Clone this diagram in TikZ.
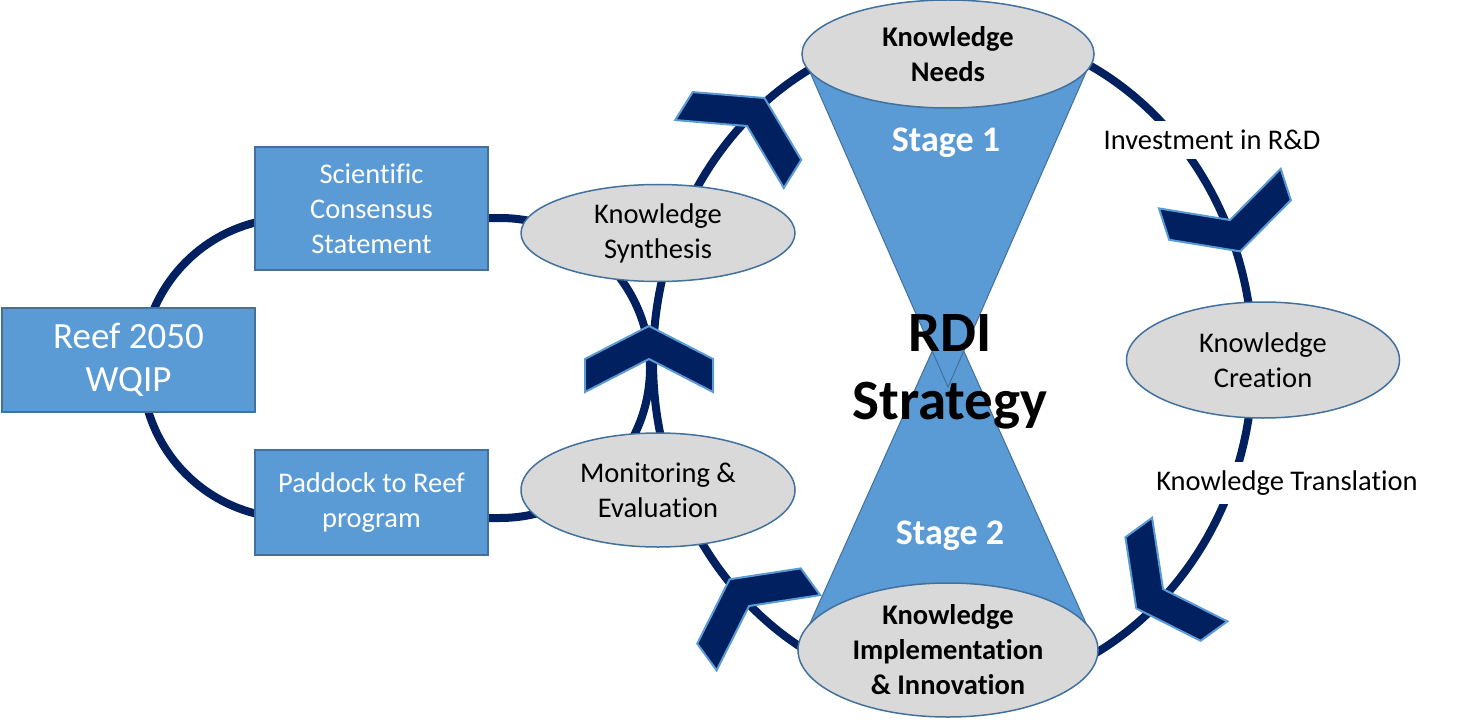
\documentclass[tikz,border=0pt]{standalone}
\usepackage{fontspec}
\setmainfont[Ligatures=NoCommon]{Carlito}
\usepackage{tikz}
\tikzset{>=latex}
\usetikzlibrary{shapes.geometric}

\definecolor{navy}{HTML}{002060}
\definecolor{midblue}{HTML}{5B9BD5}
\definecolor{edgeblue}{HTML}{41719C}
\definecolor{ovalgray}{HTML}{D9D9D9}

\begin{document}
\begin{tikzpicture}[x=1pt, y=-1pt,
  loopline/.style={navy, line width=8pt},
  chevron/.style={fill=navy, draw=midblue, line width=2pt},
  cone/.style={fill=midblue, draw=edgeblue, line width=1pt},
  oval/.style={ellipse, fill=ovalgray, draw=edgeblue, line width=1.5pt, inner sep=-16pt, align=center, font=\fontsize{28.5}{35}\selectfont},
  panel/.style={rectangle, fill=midblue, draw=edgeblue, line width=1.8pt, inner sep=0pt, align=center, text=white, font=\fontsize{28.5}{35}\selectfont},
  tag/.style={fill=white, inner xsep=4pt, inner ysep=9pt, font=\fontsize{28.5}{35}\selectfont},
  stagetext/.style={text=white, font=\fontsize{36}{43}\selectfont\bfseries}]
\useasboundingbox (0,0) rectangle (1474,722);

\draw[loopline] (953,361) ellipse [x radius=300, y radius=332];
\draw[loopline, rounded corners=150pt] (142,218) rectangle (650,518);

\foreach \cx/\cy/\ang in {747/126/58, 1230/220/-72, 1163/589/-144, 749/606/126, 649/359/90}{
  \draw[chevron, shift={(\cx,\cy)}, rotate=\ang] (-33,-64) -- (0,-64) -- (33,0) -- (0,64) -- (-33,64) -- (0,0) -- cycle;
}

\draw[cone] (798,650) -- (948,316) -- (1098,650) -- cycle;
\draw[cone] (802,54) -- (948,387) -- (1094,54) -- cycle;

\node[oval, minimum width=292, minimum height=108, font=\fontsize{28.5}{35}\selectfont\bfseries] (needs) at (948,54) {Knowledge\\Needs};
\node[oval, minimum width=300, minimum height=134, font=\fontsize{28.5}{35}\selectfont\bfseries] (impl) at (948,650) {Knowledge\\Implementation\\\& Innovation};
\node[oval, minimum width=274, minimum height=97] (synth) at (658,233) {Knowledge\\Synthesis};
\node[oval, minimum width=274, minimum height=114] (monit) at (658,490) {Monitoring \&\\Evaluation};
\node[oval, minimum width=273, minimum height=116] (creat) at (1263,360) {Knowledge\\Creation};

\node[panel, minimum width=233, minimum height=123] (sci) at (371.5,208.5) {Scientific\\Consensus\\Statement};
\node[panel, minimum width=253, minimum height=104, font=\fontsize{37}{43}\selectfont] (reef) at (128.5,360) {Reef 2050\\WQIP};
\node[panel, minimum width=233, minimum height=105] (pad) at (371.5,502.5) {Paddock to Reef\\program};

\node[tag] (invest) at (1212,140) {Investment in R\&D};
\node[tag] (transl) at (1287,483) {Knowledge Translation};

\node[stagetext] (stage1) at (946,143) {Stage 1};
\node[stagetext] (stage2) at (950,536) {Stage 2};
\node[font=\fontsize{57}{68}\selectfont\bfseries, align=center] (rdi) at (950,372) {RDI\\Strategy};
\end{tikzpicture}
\end{document}
